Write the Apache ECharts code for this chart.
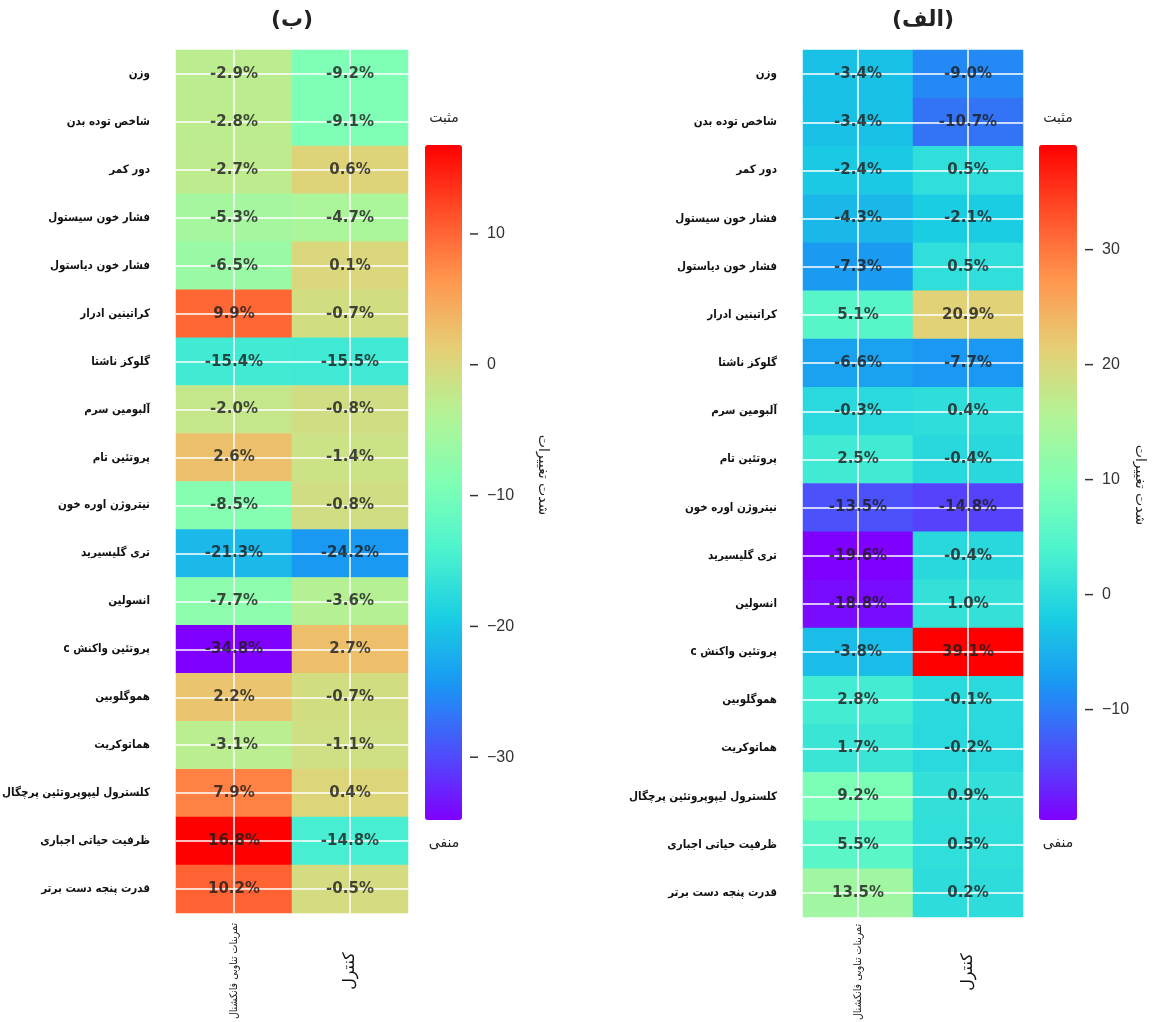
<!DOCTYPE html>
<html>
<head>
<meta charset="utf-8">
<script src="https://cdn.jsdelivr.net/npm/echarts@6/dist/echarts.min.js"></script>
<style>
  html, body { margin: 0; padding: 0; background: #fff; }
  #chart { width: 1153px; height: 1022px; }
</style>
</head>
<body>
<div id="chart"></div>
<script>
// ردیف‌ها (از بالا به پایین)
const rowLabels = [
  'وزن', 'شاخص توده بدن', 'دور کمر', 'فشار خون سیستول', 'فشار خون دیاستول',
  'کراتینین ادرار', 'گلوکز ناشتا', 'آلبومین سرم', 'پروتئین تام', 'نیتروژن اوره خون',
  'تری گلیسیرید', 'انسولین', 'پروتئین واکنش c', 'هموگلوبین', 'هماتوکریت',
  'کلسترول لیپوپروتئین پرچگال', 'ظرفیت حیاتی اجباری', 'قدرت پنجه دست برتر'
]
const groupLabels = ['تمرینات تناوبی فانکشنال', 'کنترل']

// پنل (ب)
const panelBExercise = [-2.9, -2.8, -2.7, -5.3, -6.5, 9.9, -15.4, -2.0, 2.6, -8.5, -21.3, -7.7, -34.8, 2.2, -3.1, 7.9, 16.8, 10.2]
const panelBControl = [-9.2, -9.1, 0.6, -4.7, 0.1, -0.7, -15.5, -0.8, -1.4, -0.8, -24.2, -3.6, 2.7, -0.7, -1.1, 0.4, -14.8, -0.5]
const panelBTicks = [-30, -20, -10, 0, 10]

// پنل (الف)
const panelAExercise = [-3.4, -3.4, -2.4, -4.3, -7.3, 5.1, -6.6, -0.3, 2.5, -13.5, -19.6, -18.8, -3.8, 2.8, 1.7, 9.2, 5.5, 13.5]
const panelAControl = [-9.0, -10.7, 0.5, -2.1, 0.5, 20.9, -7.7, 0.4, -0.4, -14.8, -0.4, 1.0, 39.1, -0.1, -0.2, 0.9, 0.5, 0.2]
const panelATicks = [-10, 0, 10, 20, 30]

// matplotlib "rainbow"
const rainbow = ['#8000ff', '#4d4ffc', '#1a96f3', '#1acee3', '#4df3ce', '#80ffb4',
  '#b3f396', '#e6ce74', '#ff964f', '#ff4f28', '#ff0000']

const chart = echarts.init(document.getElementById('chart'))
const FONT = 'DejaVu Sans'
const FONT_C = '"DejaVu Sans Condensed", "DejaVu Sans"'

const toCells = (a, b) => {
  const out = []
  a.forEach((v, i) => out.push([0, i, v]))
  b.forEach((v, i) => out.push([1, i, v]))
  return out
}
const cellsB = toCells(panelBExercise, panelBControl)
const cellsA = toCells(panelAExercise, panelAControl)
const extent = arr => [Math.min(...arr), Math.max(...arr)]
const extB = extent(panelBExercise.concat(panelBControl))
const extA = extent(panelAExercise.concat(panelAControl))

const catX = (gi, margin) => ({
  type: 'category', gridIndex: gi, data: groupLabels,
  axisLine: { show: false }, axisTick: { show: false }, splitLine: { show: false },
  axisLabel: {
    interval: 0, rotate: 90, align: 'center', verticalAlign: 'middle', margin: margin,
    color: '#111',
    formatter: (v, i) => i === 0 ? '{a|' + v + '}' : '{b|' + v + '}',
    rich: {
      a: { fontFamily: FONT_C, fontSize: 10.5, color: '#111' },
      b: { fontFamily: FONT, fontSize: 16, color: '#111' }
    }
  }
})
const catY = gi => ({
  type: 'category', gridIndex: gi, data: rowLabels, inverse: true,
  axisLine: { show: false }, axisTick: { show: false }, splitLine: { show: false },
  axisLabel: {
    interval: 0, margin: 26, fontFamily: FONT_C, fontSize: 11.5, fontWeight: 'bold', color: '#111',
    formatter: v => '\u202B' + v + '\u202C'
  }
})
// tick mark + number, drawn as one rich label
const cbarY = (gi, ext, ticks) => ({
  type: 'value', gridIndex: gi, position: 'right', min: ext[0], max: ext[1],
  axisLine: { show: false }, splitLine: { show: false }, axisTick: { show: false },
  axisLabel: {
    customValues: ticks, margin: 8, align: 'left', verticalAlign: 'middle',
    formatter: v => '{t| }{s| }' + String(v).replace('-', '\u2212'),
    fontFamily: 'Liberation Sans', fontSize: 16, color: '#333',
    rich: {
      t: { width: 8, height: 1.5, backgroundColor: '#333', fontSize: 1, lineHeight: 1.5 },
      s: { width: 9, fontSize: 1 }
    }
  }
})
const heat = (xi, cells) => ({
  type: 'heatmap', xAxisIndex: xi, yAxisIndex: xi, data: cells, z: 2,
  itemStyle: { borderWidth: 0 },
  emphasis: { disabled: true },
  label: { show: false },
  markLine: {
    silent: true, symbol: 'none', label: { show: false }, z: 5,
    lineStyle: { color: '#ffffff', width: 1.5, type: 'solid' },
    data: groupLabels.map(g => ({ xAxis: g })).concat(rowLabels.map(r => ({ yAxis: r })))
  }
})
// value text on top of the white grid lines
const values = (xi, cells) => ({
  type: 'scatter', xAxisIndex: xi, yAxisIndex: xi, data: cells, z: 10,
  symbolSize: 0, silent: true,
  label: {
    show: true, position: 'inside', fontFamily: FONT, fontSize: 15, fontWeight: 'bold', color: '#1c1c1c',
    formatter: p => p.value[2].toFixed(1) + '%'
  }
})
const vmap = (si, ext, left, w) => ({
  type: 'continuous', seriesIndex: si, min: ext[0], max: ext[1],
  calculable: false, hoverLink: false, orient: 'vertical',
  left: left, top: 145, itemWidth: w, itemHeight: 675, padding: 0,
  inRange: { color: rainbow }
})
const txt = (x, y, text, font, rotation) => ({
  type: 'text', x: x, y: y, rotation: rotation || 0, silent: true,
  style: { text: text, font: font, fill: '#222', align: 'center', verticalAlign: 'middle' }
})

chart.setOption({
  backgroundColor: '#fff',
  animation: false,
  grid: [
    { left: 176, top: 50, width: 232, height: 863, containLabel: false, outerBoundsMode: 'none' },
    { left: 803, top: 50, width: 220, height: 867, containLabel: false, outerBoundsMode: 'none' },
    { left: 425, top: 145, width: 37, height: 675, containLabel: false, outerBoundsMode: 'none' },
    { left: 1039, top: 145, width: 38, height: 675, containLabel: false, outerBoundsMode: 'none' }
  ],
  xAxis: [catX(0, 58), catX(1, 55),
    { type: 'value', gridIndex: 2, show: false }, { type: 'value', gridIndex: 3, show: false }],
  yAxis: [catY(0), catY(1), cbarY(2, extB, panelBTicks), cbarY(3, extA, panelATicks)],
  visualMap: [vmap(0, extB, 425, 37), vmap(1, extA, 1039, 38)],
  series: [heat(0, cellsB), heat(1, cellsA), values(0, cellsB), values(1, cellsA)],
  graphic: [
    txt(292, 20, '(ب)', 'bold 22px ' + FONT),
    txt(923, 20, '(الف)', 'bold 22px ' + FONT),
    txt(444, 118, 'مثبت', '14px ' + FONT),
    txt(444, 843, 'منفی', '14px ' + FONT),
    txt(1058, 118, 'مثبت', '14px ' + FONT),
    txt(1058, 843, 'منفی', '14px ' + FONT),
    txt(543, 475, 'شدت تغییرات', '14px ' + FONT, -Math.PI / 2),
    txt(1140, 485, 'شدت تغییرات', '14px ' + FONT, -Math.PI / 2)
  ]
})
</script>
</body>
</html>
